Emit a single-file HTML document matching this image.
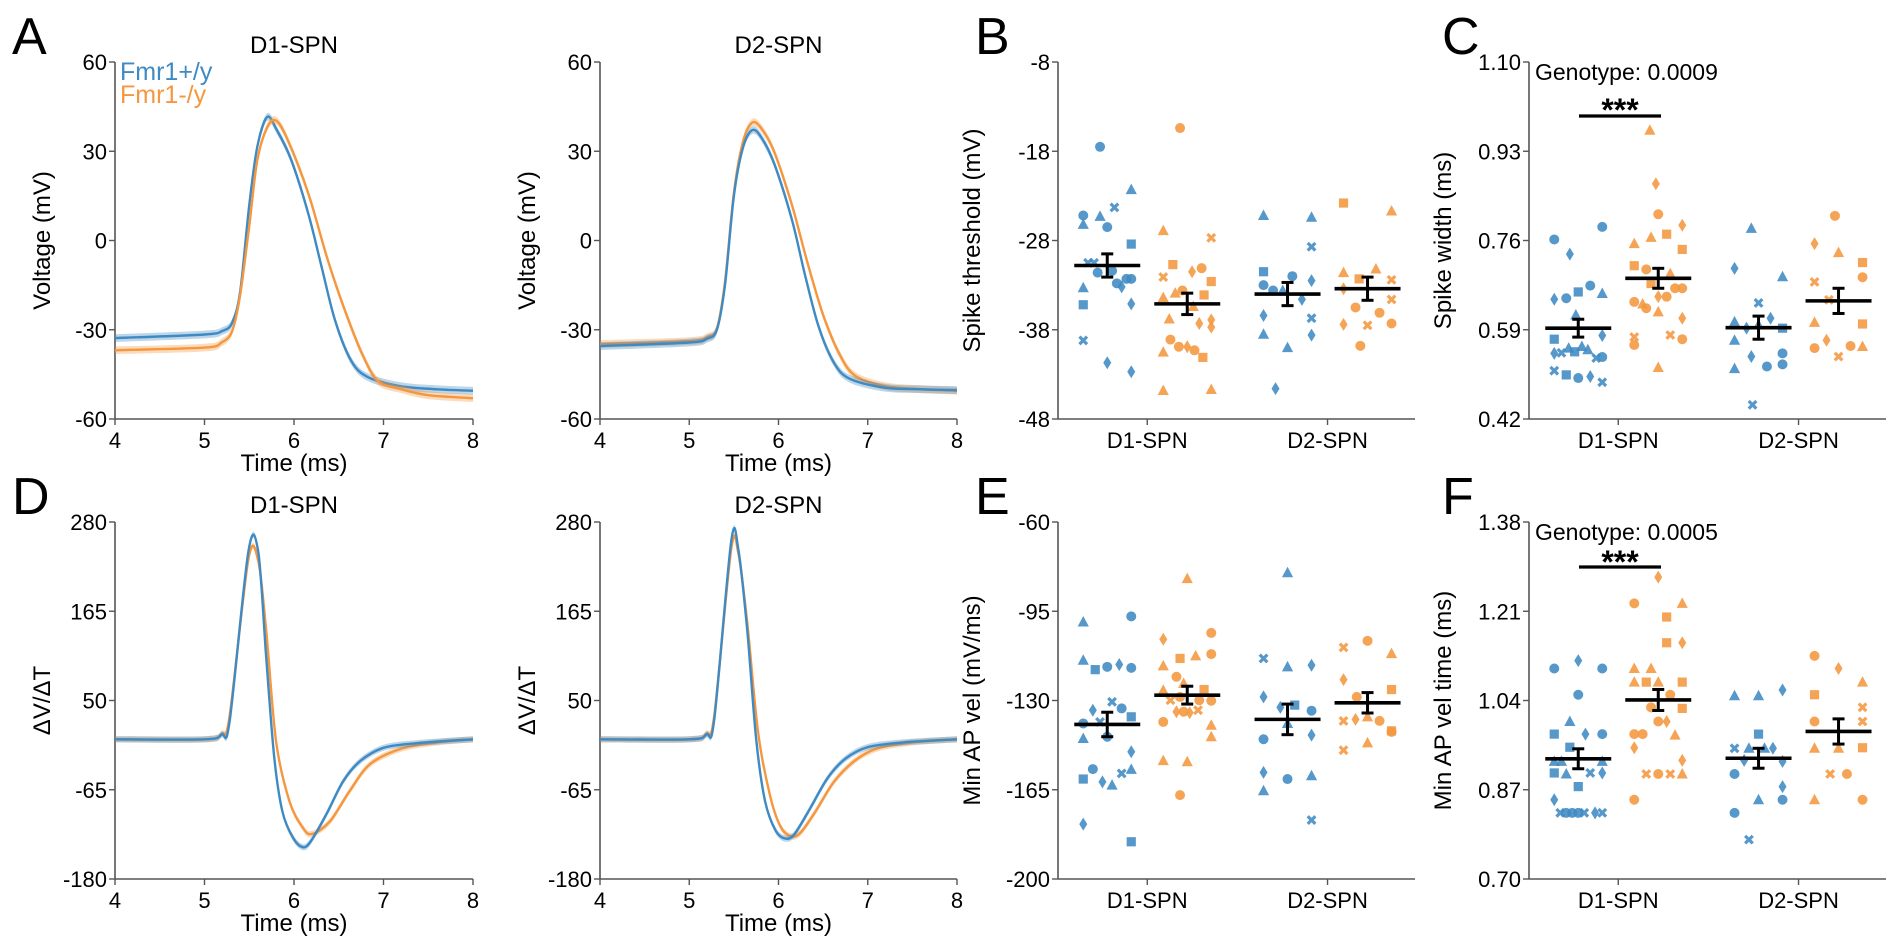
<!DOCTYPE html>
<html><head><meta charset="utf-8">
<style>
html,body{margin:0;padding:0;background:#fff;}
svg{display:block;font-family:"Liberation Sans",Arial,sans-serif;}
</style></head>
<body>
<svg id="fig" width="1901" height="949" viewBox="0 0 1901 949" xmlns="http://www.w3.org/2000/svg">
<g id="root"></g>
</svg>
<script>
// ---------- trace data (panels A, D) ----------
const tA1b=[4,5,5.2,5.31,5.4,5.5,5.59,5.7,5.81,5.97,6.16,6.31,6.46,6.64,6.83,7.2,7.6,8];
const vA1b=[-32.8,-31.6,-30.4,-27.6,-16.9,12,31.5,41.5,37,27,9,-9,-27,-40.5,-46,-49,-50,-50.5];
const tA1o=[4,5,5.19,5.31,5.4,5.5,5.59,5.7,5.8,5.93,6.16,6.38,6.57,6.76,6.94,7.2,7.5,8];
const vA1o=[-36.9,-36,-34.3,-30.4,-18,5,27,38,40.3,33.8,15.8,-6.8,-23.6,-38,-47.3,-50,-52,-53];
const tA2b=[4,5,5.2,5.31,5.4,5.5,5.6,5.7,5.8,5.95,6.15,6.3,6.45,6.62,6.8,7.2,7.6,8];
const vA2b=[-35.5,-34.3,-33,-30,-15,15,31,37,35,26,7,-12,-29,-41,-46.5,-49.5,-50,-50.3];
const tA2o=[4,5,5.2,5.31,5.4,5.5,5.6,5.7,5.8,5.95,6.15,6.32,6.5,6.68,6.86,7.2,7.6,8];
const vA2o=[-34.8,-33.8,-32.5,-29.5,-14,16,33,39.5,38,30,12,-7,-25,-38,-45.5,-49,-50,-50.5];
const tD1b=[4,5,5.19,5.28,5.49,5.6,5.69,5.78,5.87,5.99,6.1,6.19,6.36,6.55,6.74,7,7.37,8];
const vD1b=[0,0,6,23,242,242,104,-24,-93,-127,-139,-131,-97,-54,-28,-11,-5,0];
const tD1o=[4,5,5.19,5.28,5.49,5.6,5.69,5.8,5.95,6.1,6.2,6.4,6.62,6.85,7.2,7.6,8];
const vD1o=[0,0,7,30,232,230,139,-3,-80,-114,-122,-106,-67,-32,-12,-4,0];
const tD2b=[4,5,5.19,5.28,5.47,5.55,5.65,5.75,5.85,5.97,6.08,6.18,6.35,6.55,6.75,7,7.4,8];
const vD2b=[0,0,6,25,255,245,140,0,-80,-118,-128,-122,-90,-50,-25,-10,-4,0];
const tD2o=[4,5,5.19,5.28,5.47,5.55,5.65,5.77,5.9,6.02,6.14,6.25,6.42,6.62,6.85,7.1,7.5,8];
const vD2o=[0,0,7,30,245,240,150,10,-70,-112,-125,-120,-92,-55,-28,-12,-4,0];
const tickA=["60","30","0","-30","-60"];
const tickD=["280","165","50","-65","-180"];
const tickT=["4","5","6","7","8"];

// ---------- panel B (spike threshold) ----------
const B_d1wt=[-17.5,-22.3,-25.2,-25.3,-24.3,-26.2,-26.5,-28.4,-30.5,-30.5,-31.6,-31.4,-32.8,-32.3,-32.3,-33.2,-33.3,-35.2,-35.1,-39.2,-41.7,-42.7];
const B_d1wt_j=[-0.3,1,-1,-0.3,0.3,-1,0,1,-0.8,-0.55,-0.4,0.2,0.4,0.8,1,0.6,-1,-1,1,-1,0,1];
const B_d1wt_s="ctctxtcsxxcccccdtsdxdd";
const B_d1ko=[-15.4,-26.9,-27.7,-30.7,-31.5,-31.1,-32.1,-32.6,-33.9,-33.6,-34.4,-34.1,-35.4,-36.8,-37.3,-36.9,-37.7,-39.1,-39.9,-39.9,-40.3,-41.1,-40.5,-44.8,-44.7];
const B_d1ko_j=[-0.3,-1,1,-0.6,0.2,0.6,-1,1,-0.5,-0.2,-1,0.7,0.25,-0.75,0.5,1,1,-0.7,-0.35,0,0.3,0.65,-1,-1,1];
const B_d1ko_s="ctxsdcxstctsttdddccdcsttt";
const B_d2wt=[-25.2,-25.4,-28.7,-31.5,-32,-33,-33.6,-33.6,-32.5,-34.6,-36.4,-36.7,-38.5,-38.6,-40,-44.6];
const B_d2wt_j=[-1,1,1,-1,0.2,-1,-0.6,-0.2,1,0.6,-1,1,-1,1,0,-0.5];
const B_d2wt_s="ttxsccctdddxtdtd";
const B_d2ko=[-23.8,-24.7,-31.6,-31.2,-32.3,-32.4,-33.4,-34.6,-35.5,-36.1,-37.5,-37.4,-37.3,-39.8];
const B_d2ko_j=[-1,1,-1,0.35,-0.35,1,-1,1,-0.5,0.5,0,-1,1,-0.3];
const B_d2ko_s="sttt sxdxccxdcc".replace(" ","");
const B_mean=[-30.8,-35.1,-34.0,-33.4];
const B_sem=[1.3,1.2,1.3,1.3];
const B_ticks=["-8","-18","-28","-38","-48"];

// ---------- panel C (spike width) ----------
const C_d1wt=[0.786,0.762,0.734,0.674,0.662,0.659,0.648,0.650,0.618,0.579,0.572,0.545,0.546,0.555,0.548,0.558,0.552,0.536,0.538,0.512,0.504,0.498,0.501,0.490];
const C_d1wt_j=[1,-1,-0.35,0.5,0,1,-1,-0.5,-0.1,1,-1,-1,-0.7,-0.4,-0.15,0.15,0.4,0.75,1,-1,-0.5,0,0.5,1];
const C_d1wt_s="ccdcstdctdsdxtsttxcxscdx";
const C_d1ko=[0.970,0.868,0.810,0.789,0.766,0.754,0.772,0.743,0.712,0.705,0.678,0.697,0.669,0.669,0.643,0.639,0.631,0.653,0.653,0.624,0.612,0.576,0.561,0.580,0.572,0.518];
const C_d1ko_j=[-0.35,-0.1,0,1,-0.3,-1,0.35,1,-1,-0.5,-0.3,0.5,1,0.7,-1,-0.65,-0.5,0,0.35,0,1,-1,-1,0.5,1,0];
const C_d1ko_s="tdcdttssscstccctcdctdxcxct";
const C_d2wt=[0.783,0.707,0.691,0.641,0.612,0.605,0.593,0.599,0.593,0.570,0.539,0.545,0.520,0.524,0.516,0.447];
const C_d2wt_j=[-0.3,-1,1,0,0.5,-1,-0.5,0,1,-1,-0.3,1,0.35,1,-1,-0.25];
const C_d2wt_s="tdtxdtdtstdccctx";
const C_d2ko=[0.807,0.754,0.737,0.718,0.690,0.681,0.647,0.604,0.601,0.570,0.555,0.559,0.558,0.539];
const C_d2ko_j=[-0.15,-1,0,1,1,-1,-0.4,-1,1,-0.5,-1,0.5,1,0];
const C_d2ko_s="cdtscxxtsdcctx";
const C_mean=[0.593,0.688,0.594,0.645];
const C_sem=[0.017,0.019,0.022,0.024];
const C_ticks=["1.10","0.93","0.76","0.59","0.42"];

// ---------- panel E (min AP velocity) ----------
const E_d1wt=[-99.2,-97,-114.2,-117.9,-116.8,-115.9,-117.2,-130.5,-133.8,-133.1,-136.4,-139,-138.4,-144.2,-144.9,-150.1,-156.9,-158.6,-157,-160.8,-161.9,-163.2,-178.5,-185.4];
const E_d1wt_j=[-1,1,-1,-0.5,0,0.5,1,0.2,-0.6,0.6,1,-1,-0.3,0,-1,1,-0.6,0.6,1,-1,-0.2,0.2,-1,1];
const E_d1wt_s="tctscdcxdcscxctdcxtsdtds";
const E_d1ko=[-82.2,-103.5,-106,-113.5,-112.5,-111.8,-116.4,-120.7,-123.3,-126,-125.7,-129.9,-128.6,-129.9,-130.1,-134.4,-134.4,-134.8,-133.8,-138.4,-139.7,-144.2,-153.6,-154,-167.1];
const E_d1ko_j=[0,1,-1,-0.3,0.35,1,-1,-0.45,-0.15,-1,0.7,-0.7,-0.3,0.5,1,-0.45,-0.15,0.1,0.45,-1,1,1,-1,0,-0.3];
const E_d1ko_s="tcdstctcttsxcccdcdxcttttct";
const E_d2wt=[-79.9,-113.5,-116.8,-116.2,-128.6,-132.7,-131.8,-134,-139,-143.6,-145.2,-158.2,-160.8,-159.5,-165.4,-176.9];
const E_d2wt_j=[0,-1,0,1,-1,-0.3,0.3,1,0,1,-1,-1,0,1,-1,1];
const E_d2wt_s="txtdddsctdcdcttx";
const E_d2ko=[-106.6,-109.2,-111.6,-121.8,-125.7,-128.6,-138,-137.4,-136.4,-138,-141.9,-142.3,-149.5,-146.6];
const E_d2ko_j=[0,-1,1,-1,1,-0.45,-1,-0.5,0,0.5,1,1,-1,0];
const E_d2ko_s="cxtdscxdtcscxt";
const E_mean=[-139.4,-127.9,-137.4,-130.9];
const E_sem=[4.8,3.5,6.0,4.0];
const E_ticks=["-60","-95","-130","-165","-200"];

// ---------- panel F (min AP velocity time) ----------
const F_d1wt=[1.116,1.101,1.101,1.051,1.000,0.976,0.976,0.976,0.951,0.924,0.924,0.924,0.902,0.900,0.902,0.902,0.876,0.851,0.826,0.826,0.826,0.826,0.826,0.826,0.826];
const F_d1wt_j=[0,-1,1,0,-0.35,-1,0.3,1,-0.35,-1,-0.7,1,-1,-0.5,0.5,1,0,-1,-0.75,-0.5,-0.25,0,0.25,0.7,1];
const F_d1wt_s="dccctsdcstttstxdsdxcccxdx";
const F_d1ko=[1.275,1.225,1.225,1.199,1.150,1.150,1.101,1.101,1.075,1.075,1.075,1.075,1.051,1.027,1.025,1.000,1.000,0.976,0.976,0.974,0.950,0.926,0.900,0.900,0.900,0.900,0.851];
const F_d1ko_j=[0,-1,1,0.35,0.35,1,-1,-0.3,-1,-0.5,0,1,0.5,-0.3,1,0,0.35,-1,-0.65,0.7,-1,1,-0.5,0,0.5,1,-1];
const F_d1ko_s="dctssdtttstsccscdcctddxcxtc";
const F_d2wt=[1.060,1.049,1.049,0.976,0.949,0.949,0.949,0.949,0.926,0.924,0.900,0.876,0.851,0.851,0.826,0.775];
const F_d2wt_j=[1,-1,0,0,-1,-0.4,0.25,0.6,-0.6,1,-1,1,0,1,-1,-0.4];
const F_d2wt_s="dttsxttdddcdtccx";
const F_d2ko=[1.125,1.101,1.075,1.051,1.027,1.000,1.000,0.949,0.949,0.950,0.900,0.900,0.851,0.851];
const F_d2ko_j=[-1,0,1,-1,1,-1,1,-1,0,1,-0.35,0.35,-1,1];
const F_d2ko_s="cdtsxcxttsxctc";
const F_mean=[0.929,1.041,0.930,0.981];
const F_sem=[0.019,0.020,0.019,0.024];
const F_ticks=["1.38","1.21","1.04","0.87","0.70"];

const CATS=["D1-SPN","D2-SPN"];
const BLUE="#3f8ac3", ORANGE="#f4973f";

// ---------- drawing helpers ----------
const NS="http://www.w3.org/2000/svg";
const root=document.getElementById("root");
function mk(tag,attrs,parent){const e=document.createElementNS(NS,tag);for(const k in attrs)e.setAttribute(k,attrs[k]);(parent||root).appendChild(e);return e;}
function txt(s,x,y,size,anchor,parent,extra){const e=mk("text",Object.assign({x:x,y:y,"font-size":size,"text-anchor":anchor||"middle",fill:"#000"},extra||{}),parent);e.textContent=s;return e;}

function axes(g,L,T,W,H,yTicks,xTickPos,xTickLbl){
  const ax=mk("g",{},g);
  
  
  mk("line",{x1:L,y1:T,x2:L,y2:T+H,stroke:"#555","stroke-width":1.6},ax);
  mk("line",{x1:L,y1:T+H,x2:L+W,y2:T+H,stroke:"#555","stroke-width":1.6},ax);
  yTicks.forEach((s,i)=>{const y=T+H*i/(yTicks.length-1);
    mk("line",{x1:L-6,y1:y,x2:L,y2:y,stroke:"#555","stroke-width":1.4},ax);
    const t=txt(s,L-8,y+8,22,"end",ax);
    
    });
  xTickPos.forEach((x,i)=>{
    mk("line",{x1:x,y1:T+H,x2:x,y2:T+H+6,stroke:"#555","stroke-width":1.4},ax);
    const t=txt(xTickLbl[i],x,T+H+29,22,"middle",ax);
    
    });
}
function ylabel(g,s,x,y){const t=txt(s,x,y,24,"middle",g,{transform:"rotate(-90 "+x+" "+y+")"});
  
  }

// Catmull-Rom smoothing into cubic beziers
function smooth(pts,move){
  let d=(move?"M":"L")+pts[0][0].toFixed(1)+","+pts[0][1].toFixed(1);
  for(let i=0;i<pts.length-1;i++){
    const p0=pts[Math.max(0,i-1)],p1=pts[i],p2=pts[i+1],p3=pts[Math.min(pts.length-1,i+2)];
    const k=0.16;
    const c1=[p1[0]+(p2[0]-p0[0])*k,p1[1]+(p2[1]-p0[1])*k];
    const c2=[p2[0]-(p3[0]-p1[0])*k,p2[1]-(p3[1]-p1[1])*k];
    d+="C"+c1[0].toFixed(1)+","+c1[1].toFixed(1)+" "+c2[0].toFixed(1)+","+c2[1].toFixed(1)+" "+p2[0].toFixed(1)+","+p2[1].toFixed(1);
  }
  return d;
}

function tracePanel(name,L,T,W,H,ymin,ymax,yt,title,yl,series,band){
  const g=mk("g",{});
  
  
  const sx=t=>L+(t-4)/4*W, sy=v=>T+(ymax-v)/(ymax-ymin)*H;
  axes(g,L,T,W,H,yt,[0,1,2,3,4].map(i=>L+W*i/4),tickT);
  const tt=txt(title,L+W/2,T-9,24,"middle",g);
  
  
  const xl=txt("Time (ms)",L+W/2,T+H+52,24,"middle",g);
  
  
  ylabel(g,yl,L-65,T+H/2);
  series.forEach(s=>{
    const up=s.t.map((t,i)=>[sx(t),sy(s.v[i]+band)]);
    const dn=s.t.map((t,i)=>[sx(t),sy(s.v[i]-band)]).reverse();
    const ln=s.t.map((t,i)=>[sx(t),sy(s.v[i])]);
    const b=mk("path",{d:smooth(up,true)+smooth(dn,false)+"Z",fill:s.c,opacity:0.35},g);
    
    
    const p=mk("path",{d:smooth(ln,true),fill:"none",stroke:s.c,"stroke-width":2.4,"stroke-linejoin":"round"},g);
    
    
  });
  return g;
}

function marker(g,sh,x,y,c){
  let e;
  if(sh==="c")e=mk("circle",{cx:x,cy:y,r:5,fill:c},g);
  else if(sh==="s")e=mk("rect",{x:x-4.6,y:y-4.6,width:9.2,height:9.2,fill:c},g);
  else if(sh==="t")e=mk("polygon",{points:`${x},${y-6} ${x+5.6},${y+4.5} ${x-5.6},${y+4.5}`,fill:c},g);
  else if(sh==="d")e=mk("polygon",{points:`${x},${y-6.5} ${x+4},${y} ${x},${y+6.5} ${x-4},${y}`,fill:c},g);
  else e=mk("path",{d:`M${x-3.8},${y-3.8}L${x+3.8},${y+3.8}M${x+3.8},${y-3.8}L${x-3.8},${y+3.8}`,stroke:c,"stroke-width":3.2,fill:"none"},g);
  e.setAttribute('opacity','0.88');
  return e;
}

function scatterPanel(name,L,T,W,H,ymin,ymax,yt,yl,groups,mean,sem){
  const g=mk("g",{});
  
  
  const sy=v=>T+(ymax-v)/(ymax-ymin)*H;
  const cx=[L+W*0.25,L+W*0.755];
  axes(g,L,T,W,H,yt,cx,CATS);
  ylabel(g,yl,L-78,T+H/2);
  groups.forEach((gr,gi)=>{
    const gx=cx[gr.cat]+gr.side*40;
    const gg=mk("g",{},g);
    
    
    gr.v.forEach((v,i)=>{const m=marker(gg,gr.s[i]||"c",gx+gr.j[i]*24,sy(v),gr.c);
      
      });
  });
  groups.forEach((gr,gi)=>{
    const gx=cx[gr.cat]+gr.side*40;
    const mg=mk("g",{},g);
    
    
    const m=mean[gi],s=sem[gi];
    mk("line",{x1:gx-33,x2:gx+33,y1:sy(m),y2:sy(m),stroke:"#000","stroke-width":3.6},mg);
    mk("line",{x1:gx,x2:gx,y1:sy(m+s),y2:sy(m-s),stroke:"#000","stroke-width":3},mg);
    mk("line",{x1:gx-6,x2:gx+6,y1:sy(m+s),y2:sy(m+s),stroke:"#000","stroke-width":3},mg);
    mk("line",{x1:gx-6,x2:gx+6,y1:sy(m-s),y2:sy(m-s),stroke:"#000","stroke-width":3},mg);
  });
  return g;
}
function grp(n,v,j,s,cat,side,c){return {n:n,v:v,j:j,s:s,cat:cat,side:side,c:c};}

// ---------- build ----------
const TOP=62,BOT=522,H=357,W=357;
tracePanel("panel-a-d1-voltage",115,TOP,358,H,-60,60,tickA,"D1-SPN","Voltage (mV)",
  [{n:"wt",t:tA1b,v:vA1b,c:BLUE},{n:"ko",t:tA1o,v:vA1o,c:ORANGE}],1.3);
tracePanel("panel-a-d2-voltage",600,TOP,357,H,-60,60,tickA,"D2-SPN","Voltage (mV)",
  [{n:"ko",t:tA2o,v:vA2o,c:ORANGE},{n:"wt",t:tA2b,v:vA2b,c:BLUE}],1.3);
tracePanel("panel-d-d1-dvdt",115,BOT,358,H,-180,280,tickD,"D1-SPN","\u0394V/\u0394T",
  [{n:"ko",t:tD1o,v:vD1o,c:ORANGE},{n:"wt",t:tD1b,v:vD1b,c:BLUE}],4);
tracePanel("panel-d-d2-dvdt",600,BOT,357,H,-180,280,tickD,"D2-SPN","\u0394V/\u0394T",
  [{n:"ko",t:tD2o,v:vD2o,c:ORANGE},{n:"wt",t:tD2b,v:vD2b,c:BLUE}],4);

scatterPanel("panel-b-threshold",1058,TOP,W,H,-48,-8,B_ticks,"Spike threshold (mV)",[
  grp("b-d1-wt",B_d1wt,B_d1wt_j,B_d1wt_s,0,-1,BLUE),grp("b-d1-ko",B_d1ko,B_d1ko_j,B_d1ko_s,0,1,ORANGE),
  grp("b-d2-wt",B_d2wt,B_d2wt_j,B_d2wt_s,1,-1,BLUE),grp("b-d2-ko",B_d2ko,B_d2ko_j,B_d2ko_s,1,1,ORANGE)],B_mean,B_sem);
scatterPanel("panel-c-width",1529,TOP,W,H,0.42,1.10,C_ticks,"Spike width (ms)",[
  grp("c-d1-wt",C_d1wt,C_d1wt_j,C_d1wt_s,0,-1,BLUE),grp("c-d1-ko",C_d1ko,C_d1ko_j,C_d1ko_s,0,1,ORANGE),
  grp("c-d2-wt",C_d2wt,C_d2wt_j,C_d2wt_s,1,-1,BLUE),grp("c-d2-ko",C_d2ko,C_d2ko_j,C_d2ko_s,1,1,ORANGE)],C_mean,C_sem);
scatterPanel("panel-e-min-vel",1058,BOT,W,H,-200,-60,E_ticks,"Min AP vel (mV/ms)",[
  grp("e-d1-wt",E_d1wt,E_d1wt_j,E_d1wt_s,0,-1,BLUE),grp("e-d1-ko",E_d1ko,E_d1ko_j,E_d1ko_s,0,1,ORANGE),
  grp("e-d2-wt",E_d2wt,E_d2wt_j,E_d2wt_s,1,-1,BLUE),grp("e-d2-ko",E_d2ko,E_d2ko_j,E_d2ko_s,1,1,ORANGE)],E_mean,E_sem);
scatterPanel("panel-f-min-vel-time",1529,BOT,W,H,0.70,1.38,F_ticks,"Min AP vel time (ms)",[
  grp("f-d1-wt",F_d1wt,F_d1wt_j,F_d1wt_s,0,-1,BLUE),grp("f-d1-ko",F_d1ko,F_d1ko_j,F_d1ko_s,0,1,ORANGE),
  grp("f-d2-wt",F_d2wt,F_d2wt_j,F_d2wt_s,1,-1,BLUE),grp("f-d2-ko",F_d2ko,F_d2ko_j,F_d2ko_s,1,1,ORANGE)],F_mean,F_sem);

// legend
const lg=mk("g",{});


const l1=txt("Fmr1+/y",120,80,25,"start",lg,{fill:BLUE});


const l2=txt("Fmr1-/y",120,103,25,"start",lg,{fill:ORANGE});



// stats annotations
[["c",80,116,121,"Genotype: 0.0009"],["f",540,567,573,"Genotype: 0.0005"]].forEach(a=>{
  const g=mk("g",{});
  
  
  txt(a[4],1535,a[1],23,"start",g);
  mk("line",{x1:1579,x2:1661,y1:a[2],y2:a[2],stroke:"#000","stroke-width":3.2},g);
  txt("***",1620,a[3],32,"middle",g,{"font-weight":"bold"});
});

// panel letters
[["A",12,54],["B",975,54],["C",1442,54],["D",12,514],["E",975,514],["F",1442,514]].forEach(p=>{
  const t=txt(p[0],p[1],p[2],52,"start");
  
  
});
</script>
</body></html>
